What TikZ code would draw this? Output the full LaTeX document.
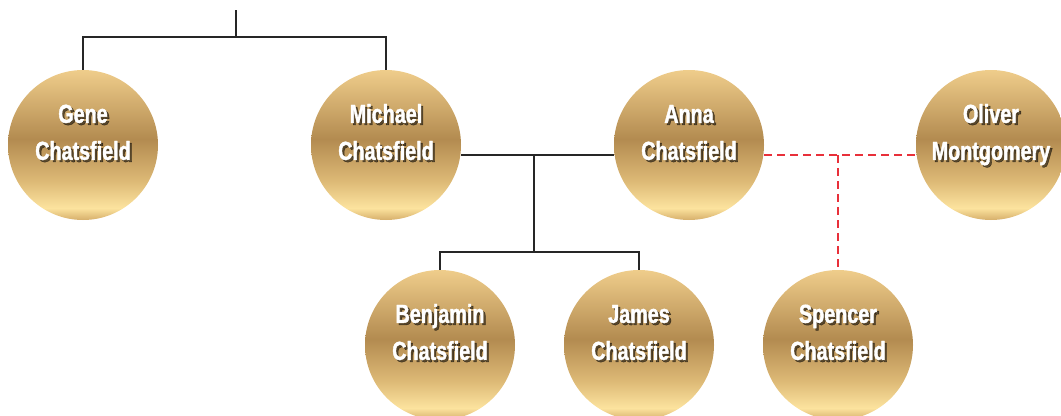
\documentclass[tikz,border=0pt]{standalone}
\usepackage{fontspec}
\newfontfamily\namefont[FakeStretch=0.76,FakeBold=1.5]{Liberation Sans}
\usetikzlibrary{positioning}
\definecolor{goldbot}{HTML}{D6AF6B}
\definecolor{goldpale}{HTML}{FCE39E}
\definecolor{goldlow}{HTML}{DDB976}
\definecolor{golddark}{HTML}{B38B50}
\definecolor{goldtop}{HTML}{EFCD8B}
\definecolor{partnerred}{HTML}{E8303A}
\pgfdeclareverticalshading{gold}{100bp}{color(0bp)=(goldbot); color(25bp)=(goldbot);
  color(29bp)=(goldpale); color(38bp)=(goldlow); color(52bp)=(golddark);
  color(75bp)=(goldtop); color(100bp)=(goldtop)}
\tikzset{person/.style={circle, minimum size=112.5pt, inner sep=0pt, shading=gold},
  personname/.style={align=center, text=white, inner sep=0pt,
    font=\namefont\bfseries\fontsize{19.5pt}{27.75pt}\selectfont},
  nameshadow/.style={personname, text=black, text opacity=0.55},
  famline/.style={line width=1.5pt, black!85},
  partner/.style={line width=2.2pt, partnerred, dash pattern=on 6pt off 3.75pt}}

\begin{document}
\begin{tikzpicture}[x=0.75pt, y=-0.75pt]
  \useasboundingbox (0,0) rectangle (1061,415);
  % people
  \foreach \id/\pos/\first/\last in {gene/{83,145}/Gene/Chatsfield,
      michael/{386,145}/Michael/Chatsfield, anna/{689,145}/Anna/Chatsfield,
      oliver/{991,145}/Oliver/Montgomery, benjamin/{440,345}/Benjamin/Chatsfield,
      james/{639,345}/James/Chatsfield, spencer/{838,345}/Spencer/Chatsfield}{
    \node[person] (\id) at (\pos) {};
    \node[nameshadow] at ([shift={(1.6pt,6.7pt)}]\id) {\strut\first\\\strut\last};
    \node[personname] (\id-name) at ([yshift=8.3pt]\id) {\strut\first\\\strut\last};
  }
  % parents
  \coordinate (top) at (236,10);
  \coordinate (bar) at (236,37);
  \draw[famline] (top) -- (bar);
  \draw[famline] (gene) |- (bar) -| (michael);
  % michael and anna
  \coordinate (wed) at (534,155);
  \coordinate (kids) at (534,252);
  \draw[famline] ([yshift=-7.5pt]michael.east) -- ([yshift=-7.5pt]anna.west);
  \draw[famline] (wed) -- (kids);
  \draw[famline] (benjamin) |- (kids) -| (james);
  % anna and oliver
  \coordinate (affair) at (838,155);
  \draw[partner] ([yshift=-7.5pt]anna.east) -- ([yshift=-7.5pt]oliver.west);
  \draw[partner] (affair) -- (spencer);
\end{tikzpicture}
\end{document}
